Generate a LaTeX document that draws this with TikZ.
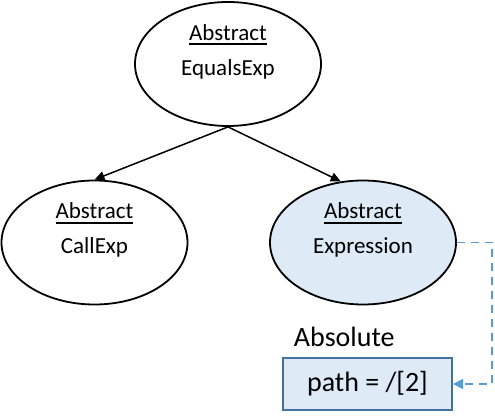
\documentclass[tikz,border=0pt]{standalone}
\usepackage{fontspec}
\setmainfont{Carlito}
\usetikzlibrary{arrows.meta,shapes.geometric}

\definecolor{lightblue}{HTML}{DEEBF7}
\definecolor{boxblue}{HTML}{41719C}
\definecolor{linkblue}{HTML}{5B9BD5}

% thick underline as in the drawing
\newcommand*{\undertxt}[1]{\setbox0\hbox{#1}\rlap{\rule[-5.3pt]{\wd0}{2pt}}\box0}

\begin{document}
\begin{tikzpicture}[x=1pt, y=-1pt,
    absstyle/.style={ellipse, draw, line width=1.8pt, minimum width=186pt, minimum height=124pt, inner sep=0pt},
    txtstyle/.style={align=center, inner sep=0pt, font=\fontsize{23}{35}\selectfont},
    pathstyle/.style={draw=boxblue, fill=lightblue, line width=2pt, minimum width=169pt, minimum height=52pt, inner sep=0pt, font=\fontsize{28}{34}\selectfont},
    linkstyle/.style={draw=linkblue, line width=1.8pt, dash pattern=on 8pt off 6pt, -{Triangle[length=10pt,width=10pt]}}]

    \newcommand*{\txtlift}{12.5}%
    \useasboundingbox (0,0) rectangle (495,419);

    % ellipses ↓
    \node [absstyle] (equals) at (228,64) {};
    \node [absstyle] (call) at (94.5,242.5) {};
    \node [absstyle, fill=lightblue] (expr) at (363,242.5) {};

    % texts ↓
    \foreach \nm/\txt in {equals/EqualsExp, call/CallExp, expr/Expression}
        \node [txtstyle] (\nm-txt) at ([yshift=\txtlift]\nm.center) {\undertxt{Abstract}\\\txt};

    % arrows ↓
    \draw [-{Triangle[length=10pt,width=9pt]}, line width=1.5pt] (equals.south) -- (call.north);
    \draw [-{Triangle[length=10pt,width=9pt]}, line width=1.5pt] (equals.south) -- (expr.110);

    % path box ↓
    \node [pathstyle] (path) at (367.5,384) {path = /[2]};
    \node [font=\fontsize{28}{34}\selectfont, inner sep=0pt, anchor=base] (absolute) at (344.3,347) {Absolute};

    \coordinate (bend) at (492,242.5);
    \draw [linkstyle] (expr.east) -- (bend) |- (path.east);

\end{tikzpicture}
\end{document}
